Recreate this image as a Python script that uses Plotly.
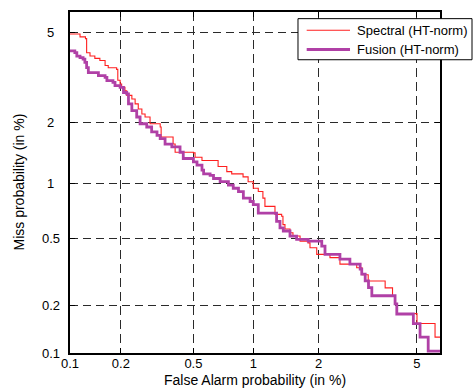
import plotly.graph_objects as go
from statistics import NormalDist

# DET curve data (percent)
far_spectral = [0.100, 0.115, 0.124, 0.126, 0.132, 0.141, 0.151, 0.162, 0.169, 0.189,
                0.192, 0.198, 0.202, 0.211, 0.216, 0.231, 0.241, 0.251, 0.263, 0.274,
                0.292, 0.332, 0.336, 0.390, 0.400, 0.500, 0.510, 0.554, 0.670, 0.741,
                0.784, 0.892, 0.944, 1.000, 1.057, 1.112, 1.137, 1.268, 1.362, 1.381,
                1.411, 1.488, 1.535, 1.653, 1.793, 1.831, 1.961, 2.131, 2.239, 2.470,
                2.470, 2.856, 2.903, 3.054, 3.235, 3.712, 3.781, 4.022, 4.041, 4.134,
                4.198, 4.842, 5.009, 5.835, 5.835, 6.080]
miss_spectral = [4.91, 4.78, 4.70, 4.11, 3.98, 3.89, 3.81, 3.63, 3.55, 3.49,
                 3.13, 3.01, 2.91, 2.81, 2.68, 2.58, 2.45, 2.32, 2.20, 2.13,
                 1.98, 1.91, 1.71, 1.58, 1.44, 1.43, 1.36, 1.31, 1.22, 1.15,
                 1.12, 1.08, 1.02, 0.943, 0.906, 0.836, 0.755, 0.683, 0.667, 0.600,
                 0.567, 0.541, 0.518, 0.485, 0.474, 0.444, 0.407, 0.407, 0.390, 0.390,
                 0.357, 0.357, 0.340, 0.309, 0.284, 0.284, 0.258, 0.258, 0.231, 0.207,
                 0.179, 0.179, 0.155, 0.155, 0.127, 0.127]

far_fusion = [0.100, 0.107, 0.110, 0.115, 0.120, 0.123, 0.126, 0.129, 0.148, 0.162,
              0.166, 0.180, 0.185, 0.198, 0.207, 0.216, 0.221, 0.231, 0.246, 0.257,
              0.280, 0.298, 0.319, 0.332, 0.353, 0.384, 0.425, 0.442, 0.500, 0.522,
              0.554, 0.565, 0.610, 0.635, 0.686, 0.755, 0.798, 0.847, 0.895, 0.965,
              1.000, 1.057, 1.268, 1.290, 1.338, 1.386, 1.488, 1.595, 1.798, 2.027,
              2.063, 2.131, 2.470, 2.470, 2.680, 2.720, 2.947, 3.000, 3.045, 3.145,
              3.244, 3.346, 4.071, 4.134, 4.198, 4.800, 4.854, 5.119, 5.142, 5.510,
              5.510, 6.080]
miss_fusion = [4.18, 4.11, 3.98, 3.92, 3.86, 3.74, 3.55, 3.38, 3.28, 3.22,
               3.12, 3.06, 2.96, 2.91, 2.76, 2.72, 2.45, 2.28, 2.13, 1.98,
               1.91, 1.81, 1.74, 1.68, 1.58, 1.53, 1.44, 1.34, 1.29, 1.24,
               1.17, 1.12, 1.10, 1.06, 1.02, 0.980, 0.943, 0.906, 0.836, 0.802,
               0.771, 0.694, 0.694, 0.626, 0.576, 0.553, 0.518, 0.496, 0.485, 0.485,
               0.454, 0.407, 0.407, 0.382, 0.382, 0.357, 0.357, 0.334, 0.312, 0.284,
               0.259, 0.231, 0.231, 0.206, 0.178, 0.178, 0.155, 0.155, 0.127, 0.127,
               0.103, 0.103]

tick_values = [0.1, 0.2, 0.5, 1, 2, 5]
tick_labels = ["0.1", "0.2", "0.5", "1", "2", "5"]
x_limits = [0.1, 6.08]
y_limits = [0.1, 6.0]

series_names = ["Spectral (HT-norm)", "Fusion (HT-norm)"]
series_colors = ["#ff1f1f", "#b040a6"]
series_widths = [1.1, 2.8]
x_title = "False Alarm probability (in %)"
y_title = "Miss probability (in %)"

nd = NormalDist()


def probit(p):
    return nd.inv_cdf(p / 100.0)


FONT = "Liberation Sans, Arial, Helvetica, sans-serif"

fig = go.Figure()
fig.add_trace(go.Scatter(
    x=[probit(v) for v in far_spectral], y=[probit(v) for v in miss_spectral],
    mode="lines", name=series_names[0], showlegend=False,
    line=dict(color=series_colors[0], width=series_widths[0], shape="hv")))
fig.add_trace(go.Scatter(
    x=[probit(v) for v in far_fusion], y=[probit(v) for v in miss_fusion],
    mode="lines", name=series_names[1], showlegend=False,
    line=dict(color=series_colors[1], width=series_widths[1], shape="hv")))

axis_common = dict(
    tickmode="array",
    tickvals=[probit(v) for v in tick_values],
    showgrid=True, gridcolor="#2a2a2a", gridwidth=1,
    showline=True, linecolor="black", linewidth=1.5, mirror="ticks",
    ticks="inside", ticklen=5, tickcolor="black", tickwidth=1,
    zeroline=False, fixedrange=True,
)

fig.update_layout(
    width=473, height=390,
    margin=dict(l=70, r=33, t=10, b=37),
    paper_bgcolor="white", plot_bgcolor="white",
    font=dict(family=FONT, color="black", size=13),
    showlegend=False,
    xaxis=dict(axis_common,
               range=[probit(x_limits[0]) - 1e-6, probit(x_limits[1])],
               ticktext=tick_labels, griddash="9px,5px", ticklabelstandoff=-2,
               tickfont=dict(family=FONT, size=13, color="black")),
    yaxis=dict(axis_common,
               range=[probit(y_limits[0]) - 1e-6, probit(y_limits[1])],
               showticklabels=False, griddash="8px,5px"),
)

# y tick labels (centered like the reference)
for v, lab in zip(tick_values, tick_labels):
    fig.add_annotation(x=-0.0514, y=probit(v), xref="paper", yref="y",
                       text=lab, showarrow=False, xanchor="center", yanchor="middle",
                       font=dict(family=FONT, size=13, color="black"))

fig.add_annotation(x=0.5, y=-0.0787, xref="paper", yref="paper", text=x_title,
                   showarrow=False, xanchor="center", yanchor="middle",
                   font=dict(family=FONT, size=14, color="black"))
fig.add_annotation(x=-0.1405, y=0.5, xref="paper", yref="paper", text=y_title,
                   textangle=-90, showarrow=False, xanchor="center", yanchor="middle",
                   font=dict(family=FONT, size=14, color="black"))

# legend box (MATLAB style, overlapping the right axis)
fig.add_shape(type="rect", xref="paper", yref="paper",
              x0=0.6162, x1=1.0865, y0=0.860, y1=0.9805,
              line=dict(color="black", width=1), fillcolor="white", layer="above")
legend_rows_y = [0.9466, 0.8901]
for name, color, width, ly in zip(series_names, series_colors, series_widths, legend_rows_y):
    fig.add_shape(type="line", xref="paper", yref="paper",
                  x0=0.6397, x1=0.7568, y0=ly, y1=ly,
                  line=dict(color=color, width=width), layer="above")
    fig.add_annotation(x=0.7703, y=ly, xref="paper", yref="paper", text=name,
                       showarrow=False, xanchor="left", yanchor="middle",
                       font=dict(family=FONT, size=13, color="black"))

fig.write_html("out.html",
               config={"displayModeBar": False},
               post_script="document.body.style.margin='0';document.body.style.overflow='hidden';")
